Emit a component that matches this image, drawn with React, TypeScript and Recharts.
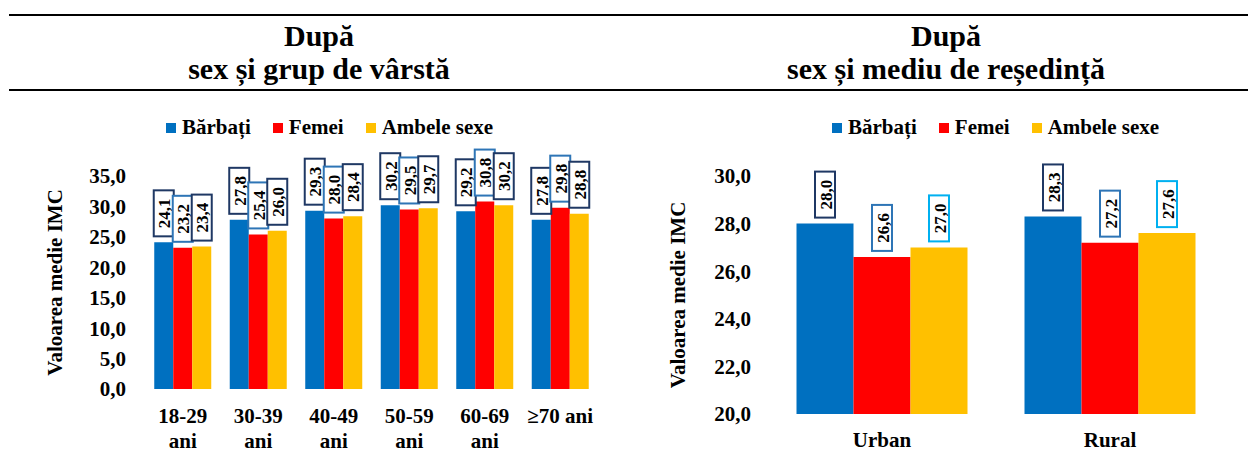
import { Bar, BarChart, Label, LabelList, Legend, XAxis, YAxis } from 'recharts';

const serif = 'Liberation Serif, Tinos, Times New Roman, DejaVu Serif, Noto Serif, FreeSerif, serif';

// Mean BMI by sex and age group
const ageGroups = ['18-29 ani', '30-39 ani', '40-49 ani', '50-59 ani', '60-69 ani', '≥70 ani'];
const ageMen = [24.1, 27.8, 29.3, 30.2, 29.2, 27.8];
const ageWomen = [23.2, 25.4, 28.0, 29.5, 30.8, 29.8];
const ageBoth = [23.4, 26.0, 28.4, 29.7, 30.2, 28.8];
const ageTicks = [0, 5, 10, 15, 20, 25, 30, 35];

// Mean BMI by sex and area of residence
const areas = ['Urban', 'Rural'];
const areaMen = [28.0, 28.3];
const areaWomen = [26.6, 27.2];
const areaBoth = [27.0, 27.6];
const areaTicks = [20, 22, 24, 26, 28, 30];

const seriesNames = ['Bărbați', 'Femei', 'Ambele sexe'];
const yTitle = 'Valoarea medie IMC';

const BLUE = '#0070C0';
const RED = '#FF0000';
const GOLD = '#FFC000';
const NAVY = '#1F3864';
const MID_BLUE = '#2E75B6';
const CYAN = '#00B0F0';

const ageData = ageGroups.map((g, i) => ({ g, m: ageMen[i], f: ageWomen[i], b: ageBoth[i] }));
const areaData = areas.map((g, i) => ({ g, m: areaMen[i], f: areaWomen[i], b: areaBoth[i] }));

const fmt = (v: number) => v.toFixed(1).replace('.', ',');

// boxed, rotated value sitting just above each bar
const valueBox = (stroke: string) => (props: any) => {
  const { x, y, width, value } = props;
  const cx = Number(x) + Number(width) / 2;
  const bottom = Number(y) - 6;
  const h = 46;
  const w = 20;
  return (
    <g>
      <rect x={cx - w / 2} y={bottom - h} width={w} height={h} fill="#fff" stroke={stroke} strokeWidth={2} />
      <text
        transform={`translate(${cx + 1},${bottom - h / 2}) rotate(-90)`}
        textAnchor="middle"
        dominantBaseline="central"
        fontFamily={serif}
        fontWeight="bold"
        fontSize={17}
        fill="#000"
      >
        {fmt(Number(value))}
      </text>
    </g>
  );
};

// legend keeps the series order instead of the default alphabetical sort
const legendContent = (props: any) => {
  const items = [...(props.payload || [])].sort(
    (a: any, b: any) => seriesNames.indexOf(a.value) - seriesNames.indexOf(b.value),
  );
  return (
    <div style={{ display: 'flex', alignItems: 'center', fontFamily: serif, fontWeight: 'bold', fontSize: 21, color: '#000' }}>
      {items.map((item: any) => (
        <span key={item.value} style={{ display: 'flex', alignItems: 'center', marginRight: 22 }}>
          <span style={{ width: 10, height: 10, background: item.color, marginRight: 6 }} />
          {item.value}
        </span>
      ))}
    </div>
  );
};

const yTitleLabel = (cx: number) => (props: any) => {
  const vb = props.viewBox || {};
  const x = Number(vb.x) + cx;
  const y = Number(vb.y) + Number(vb.height) / 2;
  return (
    <text
      transform={`translate(${x},${y}) rotate(-90)`}
      textAnchor="middle"
      dominantBaseline="central"
      fontFamily={serif}
      fontWeight="bold"
      fontSize={21}
      fill="#000"
    >
      {yTitle}
    </text>
  );
};

const AgeTick = (props: any) => {
  const { x, y, payload } = props;
  const label: string = payload.value;
  const lines = label.startsWith('≥') ? [label] : label.split(' ');
  return (
    <text x={x} y={y} textAnchor="middle" fontFamily={serif} fontWeight="bold" fontSize={21} fill="#000">
      {lines.map((l, i) => (
        <tspan key={i} x={x} dy={i === 0 ? 34 : 25}>
          {l}
        </tspan>
      ))}
    </text>
  );
};

const AreaTick = (props: any) => {
  const { x, y, payload } = props;
  return (
    <text x={x} y={Number(y) + 33} textAnchor="middle" fontFamily={serif} fontWeight="bold" fontSize={21} fill="#000">
      {payload.value}
    </text>
  );
};

const yTick = { fontFamily: serif, fontWeight: 'bold', fontSize: 21, fill: '#000' } as const;

function AgeChart() {
  return (
    <BarChart
      width={620}
      height={462}
      data={ageData}
      margin={{ top: 176, right: 22, bottom: 13, left: 0 }}
      barCategoryGap="12.25%"
      barGap={0}
    >
      <XAxis dataKey="g" axisLine={false} tickLine={false} tickSize={0} tickMargin={0} height={60} tick={<AgeTick />} interval={0} />
      <YAxis
        width={145}
        domain={[0, 35]}
        ticks={ageTicks}
        axisLine={false}
        tickLine={false}
        tickSize={0}
        tickMargin={19}
        tick={yTick}
        tickFormatter={fmt}
      >
        <Label content={yTitleLabel(55)} />
      </YAxis>
      <Legend
        layout="horizontal"
        verticalAlign="middle"
        align="center"
        content={legendContent}
        wrapperStyle={{ left: 166, top: 115, width: 440 }}
      />
      <Bar dataKey="m" name={seriesNames[0]} fill={BLUE} isAnimationActive={false}>
        <LabelList dataKey="m" content={valueBox(NAVY)} />
      </Bar>
      <Bar dataKey="f" name={seriesNames[1]} fill={RED} isAnimationActive={false}>
        <LabelList dataKey="f" content={valueBox(MID_BLUE)} />
      </Bar>
      <Bar dataKey="b" name={seriesNames[2]} fill={GOLD} isAnimationActive={false}>
        <LabelList dataKey="b" content={valueBox(NAVY)} />
      </Bar>
    </BarChart>
  );
}

function AreaChartPanel() {
  return (
    <BarChart
      width={628}
      height={462}
      data={areaData}
      margin={{ top: 176, right: 24, bottom: 8, left: 0 }}
      barCategoryGap="12.5%"
      barGap={0}
    >
      <XAxis dataKey="g" axisLine={false} tickLine={false} tickSize={0} tickMargin={0} height={40} tick={<AreaTick />} interval={0} />
      <YAxis
        width={148}
        domain={[20, 30]}
        ticks={areaTicks}
        allowDataOverflow
        axisLine={false}
        tickLine={false}
        tickSize={0}
        tickMargin={17}
        tick={yTick}
        tickFormatter={fmt}
      >
        <Label content={yTitleLabel(58)} />
      </YAxis>
      <Legend
        layout="horizontal"
        verticalAlign="middle"
        align="center"
        content={legendContent}
        wrapperStyle={{ left: 212, top: 115, width: 400 }}
      />
      <Bar dataKey="m" name={seriesNames[0]} fill={BLUE} isAnimationActive={false}>
        <LabelList dataKey="m" content={valueBox(NAVY)} />
      </Bar>
      <Bar dataKey="f" name={seriesNames[1]} fill={RED} isAnimationActive={false}>
        <LabelList dataKey="f" content={valueBox(MID_BLUE)} />
      </Bar>
      <Bar dataKey="b" name={seriesNames[2]} fill={GOLD} isAnimationActive={false}>
        <LabelList dataKey="b" content={valueBox(CYAN)} />
      </Bar>
    </BarChart>
  );
}

function Header() {
  const t = { fontFamily: serif, fontWeight: 'bold', fontSize: 30, fill: '#000', textAnchor: 'middle' } as const;
  return (
    <svg width={1248} height={100} style={{ position: 'absolute', left: 0, top: 0 }}>
      <rect x={9} y={14} width={1239} height={2} fill="#000" />
      <rect x={9} y={89} width={1239} height={2} fill="#000" />
      <text x={319} y={46} {...t}>După</text>
      <text x={319} y={79} {...t}>sex și grup de vârstă</text>
      <text x={946} y={46} {...t}>După</text>
      <text x={946} y={79} {...t}>sex și mediu de reședință</text>
    </svg>
  );
}

export default function App() {
  return (
    <div style={{ position: 'absolute', left: 0, top: 0, width: 1248, height: 462, background: '#fff', overflow: 'hidden' }}>
      <Header />
      <div style={{ position: 'absolute', left: 0, top: 0 }}>
        <AgeChart />
      </div>
      <div style={{ position: 'absolute', left: 620, top: 0 }}>
        <AreaChartPanel />
      </div>
    </div>
  );
}
